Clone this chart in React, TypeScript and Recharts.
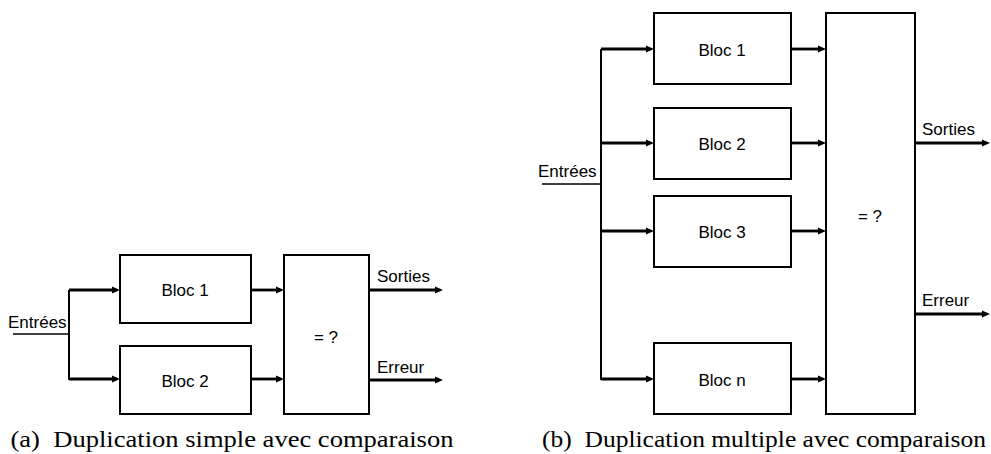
import { ComposedChart, XAxis, YAxis, ReferenceArea, ReferenceLine, Scatter } from 'recharts';

// diagram coordinates (x: 0..991 left to right, y: 0..454 top to bottom)
const boxes = [
  { x1: 120, x2: 251, y1: 255, y2: 323 },
  { x1: 120, x2: 251, y1: 346, y2: 414 },
  { x1: 284, x2: 369, y1: 255, y2: 414 },
  { x1: 654, x2: 791, y1: 13, y2: 84 },
  { x1: 654, x2: 791, y1: 108, y2: 179 },
  { x1: 654, x2: 791, y1: 196, y2: 267 },
  { x1: 654, x2: 791, y1: 343, y2: 414 },
  { x1: 826, x2: 915, y1: 13, y2: 414 },
];

// plain wires: [x1, y1, x2, y2, width]
const wires = [
  [13, 334, 69, 334, 1.6],
  [69, 290, 69, 380, 2],
  [542, 184, 601, 184, 1.6],
  [601, 49, 601, 380, 2],
];

// arrows ending on a box edge or going out: [x1, x2, y]
const arrows = [
  [69, 120, 290],
  [69, 120, 379],
  [251, 284, 290],
  [251, 284, 379],
  [369, 443, 290],
  [369, 443, 380],
  [601, 654, 49],
  [601, 654, 143],
  [601, 654, 231],
  [601, 654, 379],
  [791, 826, 49],
  [791, 826, 143],
  [791, 826, 231],
  [791, 826, 379],
  [915, 990, 143],
  [915, 990, 314],
];

const labels = [
  { x: 8, y: 322, text: 'Entrées', anchor: 'start' },
  { x: 185, y: 290, text: 'Bloc 1', anchor: 'middle' },
  { x: 185, y: 381, text: 'Bloc 2', anchor: 'middle' },
  { x: 326, y: 337, text: '= ?', anchor: 'middle' },
  { x: 377, y: 276, text: 'Sorties', anchor: 'start' },
  { x: 377, y: 367, text: 'Erreur', anchor: 'start' },
  { x: 538, y: 171, text: 'Entrées', anchor: 'start' },
  { x: 722, y: 50, text: 'Bloc 1', anchor: 'middle' },
  { x: 722, y: 144, text: 'Bloc 2', anchor: 'middle' },
  { x: 722, y: 232, text: 'Bloc 3', anchor: 'middle' },
  { x: 722, y: 380, text: 'Bloc n', anchor: 'middle' },
  { x: 870, y: 216, text: '= ?', anchor: 'middle' },
  { x: 922, y: 129, text: 'Sorties', anchor: 'start' },
  { x: 922, y: 300, text: 'Erreur', anchor: 'start' },
];

const captions = [
  { x: 232, y: 447, text: '(a)\u2002Duplication simple avec comparaison', width: 443 },
  { x: 764, y: 447, text: '(b)\u2002Duplication multiple avec comparaison', width: 444 },
];

const arrowTips = arrows.map(([, x2, y]) => ({ x: x2, y }));

const ArrowHead = ({ cx, cy }: any) => (
  <polygon points={`${cx},${cy} ${cx - 8},${cy - 3.5} ${cx - 8},${cy + 3.5}`} fill="#000" />
);

const SansText = ({ cx, cy, payload }: any) => (
  <text
    x={cx}
    y={cy}
    textAnchor={payload.anchor}
    dominantBaseline="central"
    fontFamily="Liberation Sans, Arial, sans-serif"
    fontSize={17}
    fill="#000"
  >
    {payload.text}
  </text>
);

const CaptionText = ({ cx, cy, payload }: any) => (
  <text
    x={cx}
    y={cy}
    textAnchor="middle"
    fontFamily="Liberation Serif, Times New Roman, serif"
    fontSize={24}
    textLength={payload.width}
    lengthAdjust="spacingAndGlyphs"
    fill="#000"
  >
    {payload.text}
  </text>
);

export default function App() {
  return (
    <div style={{ position: 'absolute', left: 0, top: 0, background: '#fff' }}>
      <ComposedChart width={991} height={454} margin={{ top: 0, right: 0, bottom: 0, left: 0 }}>
        <XAxis type="number" dataKey="x" domain={[0, 991]} hide allowDataOverflow />
        <YAxis type="number" dataKey="y" domain={[0, 454]} reversed hide allowDataOverflow />
        {wires.map(([x1, y1, x2, y2, w], i) => (
          <ReferenceLine
            key={`w${i}`}
            segment={[{ x: x1, y: y1 }, { x: x2, y: y2 }]}
            stroke="#000"
            strokeWidth={w}
            ifOverflow="visible"
          />
        ))}
        {arrows.map(([x1, x2, y], i) => (
          <ReferenceLine
            key={`a${i}`}
            segment={[{ x: x1, y }, { x: x2 - 4, y }]}
            stroke="#000"
            strokeWidth={2.8}
            ifOverflow="visible"
          />
        ))}
        {boxes.map((b, i) => (
          <ReferenceArea
            key={`b${i}`}
            x1={b.x1}
            x2={b.x2}
            y1={b.y1}
            y2={b.y2}
            fill="#fff"
            fillOpacity={1}
            stroke="#000"
            strokeWidth={2}
            ifOverflow="visible"
          />
        ))}
        <Scatter data={arrowTips} shape={<ArrowHead />} isAnimationActive={false} />
        <Scatter data={labels} shape={<SansText />} isAnimationActive={false} />
        <Scatter data={captions} shape={<CaptionText />} isAnimationActive={false} />
      </ComposedChart>
    </div>
  );
}
